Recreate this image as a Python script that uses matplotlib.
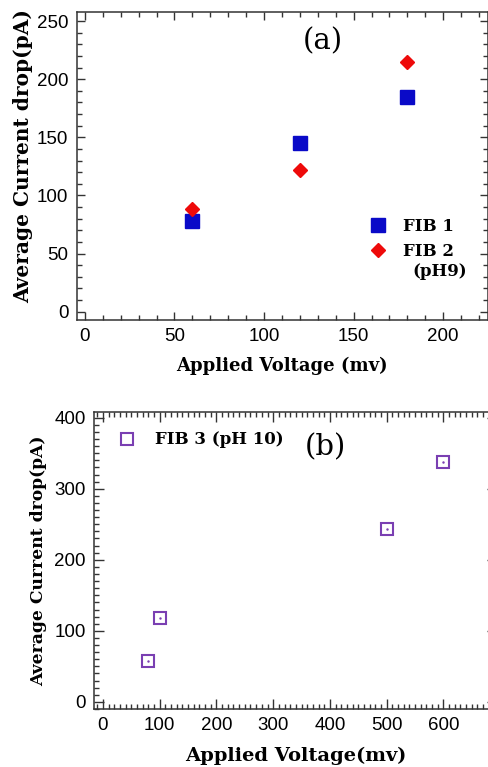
import matplotlib
matplotlib.use("Agg")
import matplotlib.pyplot as plt
from matplotlib.ticker import MultipleLocator

# ---------------- données ----------------
# (a) FIB 1 / FIB 2 (pH9)
volt_a = [60, 120, 180]
fib1 = [78, 145, 185]
fib2 = [88, 122, 215]

# (b) FIB 3 (pH 10)
volt_b = [80, 100, 500, 600]
fib3 = [57, 118, 243, 337]

xticks_a = [0, 50, 100, 150, 200]
yticks_a = [0, 50, 100, 150, 200, 250]
xticks_b = [0, 100, 200, 300, 400, 500, 600]
yticks_b = [0, 100, 200, 300, 400]

# ---------------- style ----------------
serif_b = dict(family="DejaVu Serif", weight="bold")
tick_font = "Liberation Sans"
spine_col = "#333333"

fig = plt.figure(figsize=(4.89, 7.67), dpi=100)

def style_axes(ax, xmin, ymin, maj_len, min_len):
    for s in ax.spines.values():
        s.set_linewidth(1.1)
        s.set_color(spine_col)
    ax.xaxis.set_minor_locator(MultipleLocator(xmin))
    ax.yaxis.set_minor_locator(MultipleLocator(ymin))
    ax.tick_params(which="both", direction="in", top=True, right=True,
                   color=spine_col, width=1.0)
    ax.tick_params(which="major", length=maj_len, labelsize=13.5, pad=6)
    ax.tick_params(which="minor", length=min_len)
    for lab in ax.get_xticklabels() + ax.get_yticklabels():
        lab.set_family(tick_font)

# ---------------- graphique (a) ----------------
ax1 = fig.add_axes([0.157, 0.583, 0.841, 0.4016])
ax1.plot(volt_a, fib1, "s", color="#0a0ac8", markersize=10, label="FIB 1")
ax1.plot(volt_a, fib2, "D", color="#ee0a0a", markersize=7.5, label="FIB 2")
ax1.set_xlim(-4.5, 225)
ax1.set_ylim(-7, 258)
ax1.set_xticks(xticks_a)
ax1.set_yticks(yticks_a)
style_axes(ax1, 10, 10, 6, 3.5)
ax1.set_xlabel("Applied Voltage (mv)", fontsize=13, labelpad=8, **serif_b)
ax1.set_ylabel("Average Current drop(pA)", fontsize=14.5, **serif_b)
ax1.yaxis.set_label_coords(-0.107, 0.532)
ax1.legend(loc="upper left", bbox_to_anchor=(0.713, 0.33), frameon=False,
           prop=dict(family="DejaVu Serif", weight="bold", size=12),
           handletextpad=1.0, labelspacing=0.45, handlelength=1.0,
           borderpad=0, borderaxespad=0)
ax1.text(0.815, 0.156, "(pH9)", transform=ax1.transAxes, fontsize=12,
         va="center", **serif_b)
ax1.text(0.598, 0.905, "(a)", transform=ax1.transAxes, fontsize=21,
         family="DejaVu Serif", ha="center", va="center")

# ---------------- graphique (b) ----------------
ax2 = fig.add_axes([0.192, 0.0756, 0.825, 0.3872])
ax2.plot(volt_b, fib3, "s", color="#7a3fb2", markersize=9, mfc="white",
         mew=1.5, label="FIB 3 (pH 10)")
ax2.plot(volt_b, fib3, ".", color="#7a3fb2", markersize=1.5)
ax2.set_xlim(-16, 695)
ax2.set_ylim(-10, 408)
ax2.set_xticks(xticks_b)
ax2.set_yticks(yticks_b)
style_axes(ax2, 10, 10, 7, 3.5)
ax2.set_xlabel("Applied Voltage(mv)", fontsize=14, labelpad=9, **serif_b)
ax2.set_ylabel("Average Current drop(pA)", fontsize=12.3, labelpad=5, **serif_b)
ax2.legend(loc="upper left", bbox_to_anchor=(0.015, 0.985), frameon=False,
           prop=dict(family="DejaVu Serif", weight="bold", size=12),
           handletextpad=0.9, handlelength=1.5)
ax2.text(0.575, 0.88, "(b)", transform=ax2.transAxes, fontsize=21,
         family="DejaVu Serif", ha="center", va="center")

fig.savefig("out.png", dpi=100)
